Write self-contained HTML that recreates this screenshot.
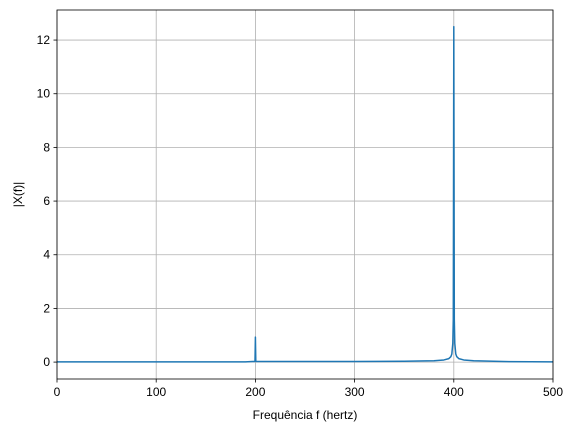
<!DOCTYPE html>
<html><head><meta charset="utf-8"><style>
body{margin:0;background:#fff;}
svg text{font-family:"Liberation Sans","DejaVu Sans",sans-serif;font-size:12px;fill:#000;}
</style></head><body>
<svg id="chart" width="576" height="433"></svg>
<script>
const xTicks=[0,100,200,300,400,500];
const yTicks=[0,2,4,6,8,10,12];
const freqs=[0,150,190,197,199,199.6,200,200.4,201,203,210,300,350,380,390,395,397,398,399,399.5,400,400.5,401,402,403,405,410,420,450,500];
const mags=[0.01,0.01,0.01,0.02,0.02,0.03,0.93,0.03,0.02,0.02,0.02,0.02,0.03,0.05,0.08,0.13,0.2,0.3,0.7,1.6,12.5,1.6,0.7,0.3,0.2,0.13,0.08,0.05,0.02,0.01];
const L=57,R=553,T=10,B=379,xmin=0,xmax=500,ymin=-0.63,ymax=13.12;
const sx=v=>L+(v-xmin)/(xmax-xmin)*(R-L);
const sy=v=>B-(v-ymin)/(ymax-ymin)*(B-T);
const svg=document.getElementById('chart');
const NS='http://www.w3.org/2000/svg';
function mk(t,a){const e=document.createElementNS(NS,t);for(const k in a)e.setAttribute(k,a[k]);svg.appendChild(e);return e;}
for(const t of xTicks){
 const g=mk('line',{x1:sx(t),x2:sx(t),y1:T,y2:B,stroke:'#b0b0b0','stroke-width':0.8});
 
 
 const k=mk('line',{x1:sx(t),x2:sx(t),y1:B,y2:B+3.5,stroke:'#000','stroke-width':0.8});
 
 
 const tx=mk('text',{x:sx(t),y:B+17,'text-anchor':'middle'});tx.textContent=t;
 
 
}
for(const t of yTicks){
 const g=mk('line',{x1:L,x2:R,y1:sy(t),y2:sy(t),stroke:'#b0b0b0','stroke-width':0.8});
 
 
 const k=mk('line',{x1:L-3.5,x2:L,y1:sy(t),y2:sy(t),stroke:'#000','stroke-width':0.8});
 
 
 const tx=mk('text',{x:L-7,y:sy(t)+4,'text-anchor':'end'});tx.textContent=t;
 
 
}
const d=freqs.map((f,i)=>(i?'L':'M')+sx(f).toFixed(2)+' '+sy(mags[i]).toFixed(2)).join(' ');
const p=mk('path',{d:d,fill:'none',stroke:'#1f77b4','stroke-width':1.5,'stroke-linejoin':'round'});


const fr=mk('rect',{x:L,y:T,width:R-L,height:B-T,fill:'none',stroke:'#000','stroke-width':0.8});


const xl=mk('text',{x:(L+R)/2,y:419,'text-anchor':'middle'});xl.textContent='Frequência f (hertz)';


const yl=mk('text',{x:0,y:0,'text-anchor':'middle',transform:'translate(22,'+((T+B)/2)+') rotate(-90)'});yl.textContent='|X(f)|';


</script>
</body></html>
